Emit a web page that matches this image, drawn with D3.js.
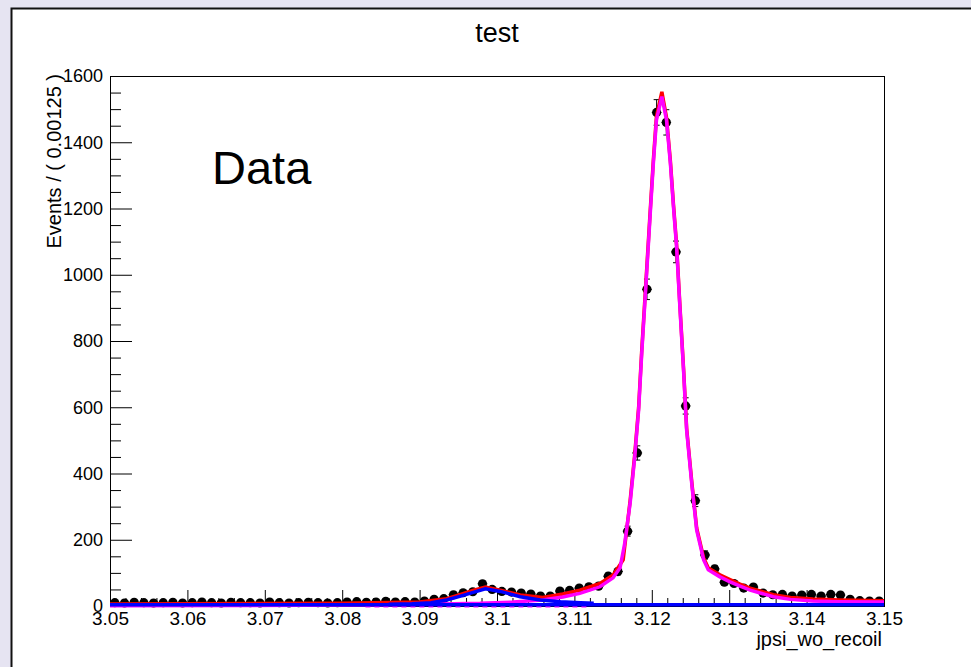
<!DOCTYPE html>
<html>
<head>
    <meta charset="UTF-8">
    <title>test</title>
    <script src="https://d3js.org/d3.v7.min.js"></script>
    <style>
        body { margin: 0; background: #e6e4f2; }
        svg { display: block; font-family: "Liberation Sans", Arial, sans-serif; }
    </style>
</head>
<body>
    <div id="chart"></div>
    <script type="text/javascript">
        // binned data: 80 bins of 0.00125 from 3.05 to 3.15
        const xMin = 3.05;
        const binWidth = 0.00125;
        const counts = [
            10, 9, 11, 10, 9, 10, 11, 9, 10, 12,
            10, 9, 11, 10, 10, 9, 12, 10, 9, 10,
            11, 10, 9, 10, 12, 13, 11, 12, 14, 12,
            13, 12, 15, 20, 22, 34, 40, 43, 67, 50,
            44, 42, 39, 36, 30, 30, 45, 47, 54, 58,
            60, 90, 104, 226, 462, 956, 1490, 1460, 1069, 604,
            318, 154, 112, 72, 68, 54, 57, 39, 34, 35,
            30, 33, 35, 30, 35, 33, 20, 16, 15, 15
        ];

        // total fit (red)
        const totalX = [3.05, 3.08, 3.084, 3.09, 3.0935, 3.095, 3.097, 3.0985, 3.1004, 3.103, 3.1059, 3.1085,
            3.1107, 3.1133, 3.115, 3.1163, 3.1172, 3.1178, 3.1183, 3.1187, 3.1191, 3.1198, 3.1202, 3.1206,
            3.1213, 3.1219, 3.1224, 3.1228, 3.1232, 3.1236, 3.1241, 3.1245, 3.1252, 3.1258, 3.1267, 3.1273,
            3.1288, 3.1301, 3.1314, 3.1327, 3.1357, 3.1379, 3.1408, 3.1443, 3.15];
        const totalY = [6, 8, 10, 12, 22, 33, 48, 57, 48, 33, 26, 36,
            48, 68, 94, 139, 318, 458, 600, 772, 924, 1195, 1346, 1478,
            1552, 1475, 1344, 1212, 1092, 920, 718, 537, 366, 235, 145, 115,
            94, 80, 66, 54, 34, 26, 21, 18, 16];

        // main peak component (magenta)
        const peakX = [3.05, 3.0745, 3.0875, 3.0978, 3.1021, 3.1059, 3.1085, 3.1107, 3.1133, 3.115,
            3.1159, 3.1165, 3.1172, 3.1178, 3.1183, 3.1187, 3.1191, 3.1198, 3.1202, 3.1206,
            3.1213, 3.1219, 3.1224, 3.1228, 3.1232, 3.1236, 3.1241, 3.1245, 3.1252, 3.1258,
            3.1267, 3.1273, 3.1288, 3.1301, 3.1314, 3.1327, 3.1357, 3.1379, 3.1408, 3.1443, 3.15];
        const peakY = [1, 2, 4, 8, 12, 18, 27, 38, 58, 85,
            115, 189, 310, 451, 592, 763, 914, 1185, 1336, 1467,
            1538, 1467, 1336, 1205, 1085, 914, 712, 531, 360, 229,
            139, 109, 88, 73, 60, 48, 28, 20, 15, 13, 12];

        // small bump component (blue)
        const bumpX = [3.086, 3.089, 3.0915, 3.0935, 3.0953, 3.0966, 3.0985, 3.1004, 3.103, 3.1056, 3.1082, 3.1108, 3.1125];
        const bumpY = [5, 7, 10, 18, 30, 39, 52, 44, 28, 18, 13, 10, 8];

        // flat background (blue) and dashed component (magenta)
        const bkgX = [3.05, 3.15];
        const bkgY = [4, 4];
        const dashX = [3.083, 3.112];
        const dashY = [0.5, 0.5];

        const yMajor = d3.range(0, 1601, 200);
        const yMinor = d3.range(0, 1601, 50).filter(d => d % 200 !== 0);
        const xMajor = d3.range(0, 11).map(i => xMin + i * 0.01);
        const xMinor = d3.range(0, 51).filter(i => i % 5 !== 0).map(i => xMin + i * 0.002);

        const width = 971, height = 667;
        const frame = { left: 110, right: 884, top: 76, bottom: 606 };

        const svg = d3.select("#chart").append("svg")
            .attr("width", width)
            .attr("height", height);

        svg.append("rect")
            .attr("width", width).attr("height", height)
            .attr("fill", "#e6e4f2");
        svg.append("rect")
            .attr("x", 11).attr("y", 8)
            .attr("width", width - 11).attr("height", height - 8)
            .attr("fill", "white");
        svg.append("path")
            .attr("d", `M11.5,${height} L11.5,8.5 L${width},8.5`)
            .attr("fill", "none")
            .attr("stroke", "#111")
            .attr("stroke-width", 2);

        const x = d3.scaleLinear().domain([3.05, 3.15]).range([frame.left, frame.right]);
        const y = d3.scaleLinear().domain([0, 1600]).range([frame.bottom, frame.top]);

        // axes (ticks point into the frame, as in ROOT)
        const yAxis = svg.append("g").attr("transform", `translate(${frame.left},0)`)
            .call(d3.axisLeft(y).tickValues(yMajor).tickSize(-22).tickPadding(7).tickFormat(d3.format("d")));
        svg.append("g").attr("transform", `translate(${frame.left},0)`)
            .call(d3.axisLeft(y).tickValues(yMinor).tickSize(-11).tickFormat(""));
        const xAxis = svg.append("g").attr("transform", `translate(0,${frame.bottom})`)
            .call(d3.axisBottom(x).tickValues(xMajor).tickSize(-16).tickPadding(6)
                .tickFormat(d => String(+d.toFixed(2))));
        svg.append("g").attr("transform", `translate(0,${frame.bottom})`)
            .call(d3.axisBottom(x).tickValues(xMinor).tickSize(-8).tickFormat(""));

        svg.selectAll(".domain").remove();
        svg.selectAll(".tick line").attr("stroke", "black");
        yAxis.selectAll("text").attr("font-size", 18).attr("fill", "black")
            .attr("font-family", "Liberation Sans, Arial, sans-serif");
        xAxis.selectAll("text").attr("font-size", 19).attr("fill", "black")
            .attr("font-family", "Liberation Sans, Arial, sans-serif");

        svg.append("rect")
            .attr("x", frame.left + 0.5).attr("y", frame.top + 0.5)
            .attr("width", frame.right - frame.left).attr("height", frame.bottom - frame.top)
            .attr("fill", "none")
            .attr("stroke", "black");

        // data points with error bars
        const bins = counts.map((n, i) => ({
            lo: xMin + i * binWidth,
            hi: xMin + (i + 1) * binWidth,
            mid: xMin + (i + 0.5) * binWidth,
            n: n,
            err: Math.sqrt(n)
        }));

        const pts = svg.append("g").attr("stroke", "black").attr("stroke-width", 1);
        pts.selectAll("line.h").data(bins).enter().append("line")
            .attr("class", "h")
            .attr("x1", d => x(d.lo)).attr("x2", d => x(d.hi))
            .attr("y1", d => y(d.n)).attr("y2", d => y(d.n));
        pts.selectAll("line.v").data(bins).enter().append("line")
            .attr("class", "v")
            .attr("x1", d => x(d.mid)).attr("x2", d => x(d.mid))
            .attr("y1", d => y(d.n - d.err)).attr("y2", d => y(d.n + d.err));
        pts.selectAll("line.cu").data(bins).enter().append("line")
            .attr("class", "cu")
            .attr("x1", d => x(d.mid) - 3).attr("x2", d => x(d.mid) + 3)
            .attr("y1", d => y(d.n + d.err)).attr("y2", d => y(d.n + d.err));
        pts.selectAll("line.cd").data(bins).enter().append("line")
            .attr("class", "cd")
            .attr("x1", d => x(d.mid) - 3).attr("x2", d => x(d.mid) + 3)
            .attr("y1", d => y(d.n - d.err)).attr("y2", d => y(d.n - d.err));
        pts.selectAll("circle").data(bins).enter().append("circle")
            .attr("cx", d => x(d.mid))
            .attr("cy", d => y(d.n))
            .attr("r", 4.6)
            .attr("fill", "black")
            .attr("stroke", "none");

        // fit curves
        const line = d3.line().x(d => x(d[0])).y(d => y(d[1]));
        function curve(xs, ys, color, dash) {
            svg.append("path")
                .datum(xs.map((v, i) => [v, ys[i]]))
                .attr("d", line)
                .attr("fill", "none")
                .attr("stroke", color)
                .attr("stroke-width", 3.5)
                .attr("stroke-dasharray", dash || null);
        }
        curve(totalX, totalY, "#ff0000");
        curve(peakX, peakY, "#ff00ff");
        curve(dashX, dashY, "#ff00ff", "5,4");
        curve(bkgX, bkgY, "#0000ff");
        curve(bumpX, bumpY, "#0000ff");

        // texts
        svg.append("text")
            .attr("x", 497).attr("y", 42)
            .attr("text-anchor", "middle")
            .attr("font-size", 27)
            .text("test");
        svg.append("text")
            .attr("x", 212).attr("y", 184)
            .attr("font-size", 47)
            .text("Data");
        svg.append("text")
            .attr("x", frame.right - 2).attr("y", 646)
            .attr("text-anchor", "end")
            .attr("font-size", 20)
            .text("jpsi_wo_recoil");
        svg.append("text")
            .attr("transform", `translate(61,${frame.top - 2}) rotate(-90)`)
            .attr("text-anchor", "end")
            .attr("font-size", 20)
            .text("Events / ( 0.00125 )");
    </script>
</body>
</html>
